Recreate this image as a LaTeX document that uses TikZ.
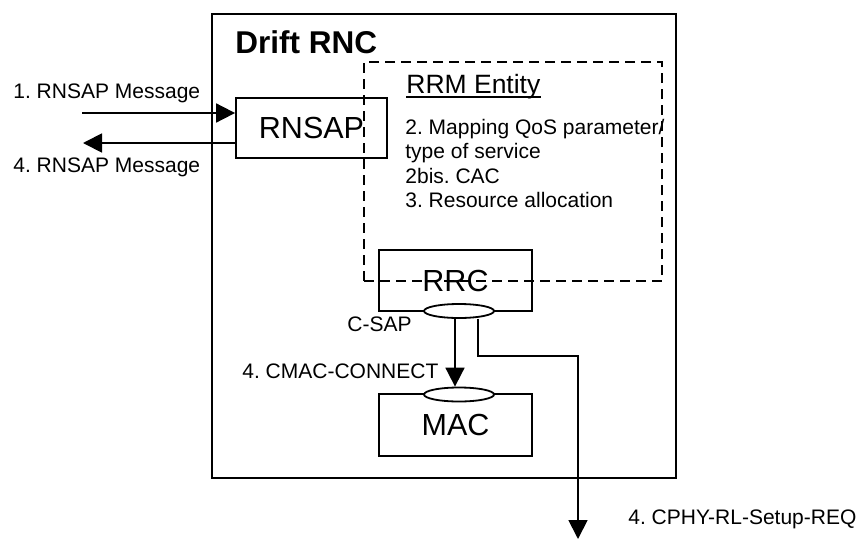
\documentclass[tikz,border=0pt]{standalone}
\usepackage{fontspec}
\setmainfont{Liberation Sans}
\usetikzlibrary{arrows.meta,shapes.geometric}
\frenchspacing

\tikzset{
  box/.style={draw, line width=0.9pt, inner sep=0pt, font=\fontsize{15.25}{18}\selectfont},
  sap/.style={draw, ellipse, fill=white, line width=0.9pt, minimum width=35pt, minimum height=7pt, inner sep=0pt},
  lbl/.style={inner sep=0pt, anchor=base west, font=\fontsize{10.5}{12.5}\selectfont},
  arr/.style={line width=0.9pt, -{Triangle[length=9.5pt,width=9.5pt]}}
}

\begin{document}
\begin{tikzpicture}[x=0.5pt,y=-0.5pt]
    \useasboundingbox (0,0) rectangle (862,541);

    % Drift RNC frame
    \node[draw, line width=0.9pt, inner sep=0pt, minimum width=232pt, minimum height=232pt] (rnc) at (444,246) {};
    \node[lbl, font=\fontsize{15.75}{19}\selectfont\bfseries] (title) at (235,53) {Drift RNC};

    % RRM entity (dashed)
    \node[draw, dash pattern=on 5pt off 3pt, line width=0.9pt, inner sep=0pt, minimum width=149pt, minimum height=109.5pt] (rrm) at (513,171.5) {};
    \node[lbl, font=\fontsize{13.25}{16}\selectfont] (rrmlbl) at (406,93) {RRM Entity};
    \draw[line width=0.75pt] ([yshift=-2pt]rrmlbl.base west) -- ([yshift=-2pt]rrmlbl.base east);

    % Steps inside the RRM entity
    \node[lbl] (step2) at (405,134) {2. Mapping QoS parameter/};
    \node[lbl] (step2b) at (405,158.5) {type of service};
    \node[lbl] (step2bis) at (405,183) {2bis. CAC};
    \node[lbl] (step3) at (405,207.5) {3. Resource allocation};

    % RNSAP, RRC and MAC
    \node[box, minimum width=75.5pt, minimum height=30pt] (rnsap) at (311.5,128) {RNSAP};
    \node[box, minimum width=76.5pt, minimum height=30.5pt] (rrc) at (455.5,280.5) {RRC};
    \node[box, minimum width=76.5pt, minimum height=31pt] (mac) at (455.5,425) {MAC};

    % SAPs
    \node[sap] (csap) at (459,311) {};
    \node[sap] (macsap) at (459,394.5) {};
    \node[lbl, anchor=base east] (csaplbl) at (412,331) {C-SAP};

    % RNSAP messages
    \coordinate (msgin) at (82,113);
    \coordinate (msgout) at (83,143);
    \draw[arr] (msgin) -- (msgin -| rnsap.west);
    \draw[arr] (msgout -| rnsap.west) -- (msgout);
    \node[lbl] (msg1) at (13,98) {1. RNSAP Message};
    \node[lbl] (msg4) at (13,172) {4. RNSAP Message};

    % Primitives
    \draw[arr] ([xshift=-2pt]csap.south) -- ([xshift=-2pt]macsap.north);
    \node[lbl] (cmac) at (242,378) {4. CMAC-CONNECT};
    \coordinate (bend) at (578,356);
    \coordinate (phy) at (578,539);
    \draw[arr] ([xshift=9.5pt]csap.south) |- (bend) -- (phy);
    \node[lbl] (cphy) at (628,524) {4. CPHY-RL-Setup-REQ};

\end{tikzpicture}
\end{document}
